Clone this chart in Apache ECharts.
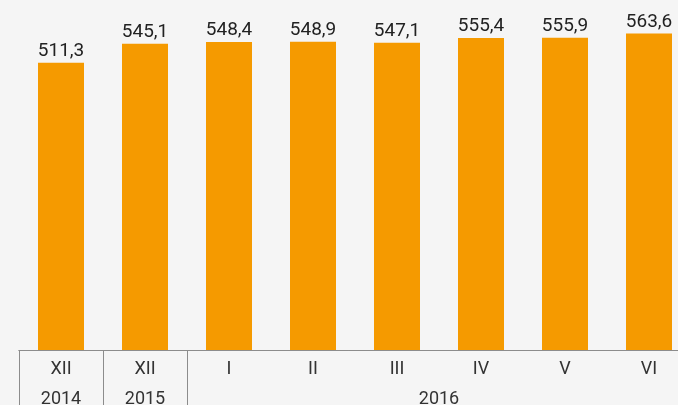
<!DOCTYPE html>
<html style="height: 100%">
<head>
<meta charset="utf-8">
<script src="https://cdn.jsdelivr.net/npm/echarts@6/dist/echarts.min.js"></script>
</head>
<body style="height: 100%; margin: 0; background: #f5f5f5;">
<div id="container" style="width: 678px; height: 405px;"></div>
<script type="text/javascript">
// данные
var months = ['XII', 'XII', 'I', 'II', 'III', 'IV', 'V', 'VI'];
var values = [511.3, 545.1, 548.4, 548.9, 547.1, 555.4, 555.9, 563.6];
// год: позиция на шкале групп (0..8) и подпись
var yearPos = [0.5, 1.5, 5];
var yearLabels = ['2014', '2015', '2016'];
var groupEdges = [0, 1, 2];

var myChart = echarts.init(document.getElementById('container'));
var option = {
    backgroundColor: '#f5f5f5',
    textStyle: { fontFamily: 'Roboto' },
    grid: { left: 19, top: 13, width: 672, bottom: 55, outerBoundsMode: 'none', containLabel: false },
    xAxis: [
        {
            type: 'category',
            data: months,
            axisLine: { lineStyle: { color: '#8c8c8c', width: 1 } },
            axisTick: { show: false },
            axisLabel: { color: '#333', fontSize: 18, margin: 10 }
        },
        {
            type: 'value',
            position: 'bottom',
            min: 0,
            max: 8,
            axisLine: { show: true, lineStyle: { color: '#8c8c8c', width: 1 } },
            splitLine: { show: false },
            axisTick: {
                show: true,
                customValues: groupEdges,
                length: 56,
                lineStyle: { color: '#8c8c8c', width: 1 }
            },
            axisLabel: {
                customValues: yearPos,
                color: '#333',
                fontSize: 18,
                margin: 40,
                formatter: function (v) {
                    var i = yearPos.indexOf(v);
                    return i >= 0 ? yearLabels[i] : '';
                }
            }
        }
    ],
    yAxis: {
        type: 'value',
        min: 0,
        max: 600,
        show: false
    },
    series: [
        {
            type: 'bar',
            data: values,
            barWidth: 46,
            itemStyle: { color: '#f59a00' },
            label: {
                show: true,
                position: 'top',
                distance: 2,
                color: '#222',
                fontSize: 19,
                formatter: function (p) {
                    return p.value.toFixed(1).replace('.', ',');
                }
            }
        }
    ]
};
myChart.setOption(option);
</script>
</body>
</html>
